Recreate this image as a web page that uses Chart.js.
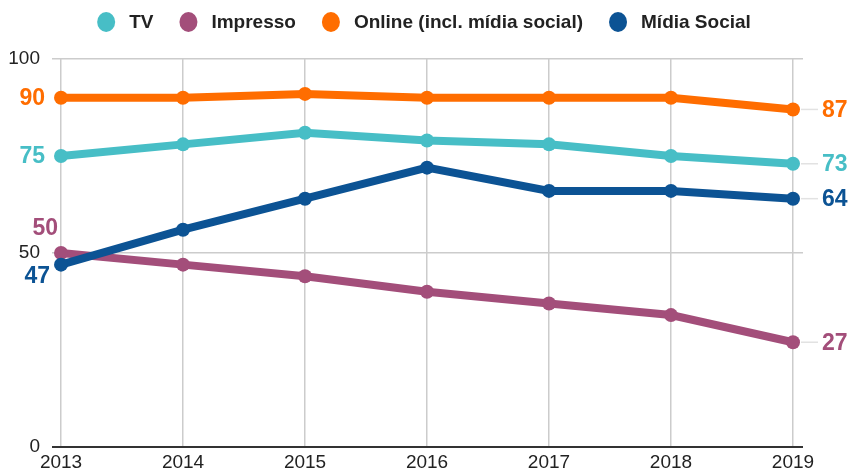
<!DOCTYPE html>
<html>
<head>
<meta charset="utf-8">
<script src="https://cdn.jsdelivr.net/npm/chart.js@4"></script>
<style>
  html, body { margin: 0; padding: 0; background: #fff; }
  #wrap { width: 851px; height: 472px; }
</style>
</head>
<body>
<div id="wrap"><canvas id="chart" width="851" height="472"></canvas></div>
<script>
// Years on the x axis
const years = [2013, 2014, 2015, 2016, 2017, 2018, 2019];

// Share (%) per medium
const tv = [75, 78, 81, 79, 78, 75, 73];
const impresso = [50, 47, 44, 40, 37, 34, 27];
const online = [90, 90, 91, 90, 90, 90, 87];
const midiaSocial = [47, 56, 64, 72, 66, 66, 64];

const seriesNames = ["TV", "Impresso", "Online (incl. mídia social)", "Mídia Social"];
const seriesColors = ["#47bec6", "#a34e7a", "#ff6d00", "#0c5394"];
const yTicks = [0, 50, 100];

const allSeries = [tv, impresso, online, midiaSocial];

const FONT = "'Liberation Sans', Arial, sans-serif";

// offsets for the 2013 labels (dx, dy) so they don't collide
const startLabelDx = [-16, -3, -16, -11];
const startLabelDy = [0, -25, 0, 11];

function toPoints(values) {
  return values.map((v, i) => ({ x: years[i], y: v }));
}

// legend row above the plot
const topLegend = {
  id: "topLegend",
  afterDraw(chart) {
    const ctx = chart.ctx;
    ctx.save();
    ctx.font = "bold 19px " + FONT;
    ctx.textBaseline = "middle";
    ctx.textAlign = "left";
    const r = 9, gapText = 14, gapItem = 26, y = 22;
    const widths = seriesNames.map(n => ctx.measureText(n).width);
    let total = 0;
    widths.forEach((w, i) => { total += 2 * r + gapText + w + (i < widths.length - 1 ? gapItem : 0); });
    let x = 424 - total / 2;
    seriesNames.forEach((name, i) => {
      ctx.fillStyle = seriesColors[i];
      ctx.beginPath();
      ctx.ellipse(x + r, y, r, r + 1, 0, 0, Math.PI * 2);
      ctx.fill();
      x += 2 * r + gapText;
      ctx.fillStyle = "#222";
      ctx.fillText(name, x, y + 1);
      x += widths[i] + gapItem;
    });
    ctx.restore();
  }
};

// draws the value at both ends of every line
const endLabels = {
  id: "endLabels",
  afterDatasetsDraw(chart) {
    const ctx = chart.ctx;
    ctx.save();
    ctx.font = "bold 23px " + FONT;
    ctx.textBaseline = "middle";
    chart.data.datasets.forEach((ds, i) => {
      const pts = chart.getDatasetMeta(i).data;
      const first = pts[0];
      const last = pts[pts.length - 1];
      const vals = allSeries[i];

      ctx.fillStyle = ds.borderColor;
      ctx.textAlign = "right";
      ctx.fillText(String(vals[0]), first.x + startLabelDx[i], first.y + startLabelDy[i] + 1);

      ctx.strokeStyle = "#e2e2e2";
      ctx.lineWidth = 1.5;
      ctx.beginPath();
      ctx.moveTo(last.x + 8, last.y);
      ctx.lineTo(last.x + 25, last.y);
      ctx.stroke();

      ctx.fillStyle = ds.borderColor;
      ctx.textAlign = "left";
      ctx.fillText(String(vals[vals.length - 1]), last.x + 29, last.y + 1);
    });
    ctx.restore();
  }
};

new Chart(document.getElementById("chart"), {
  type: "line",
  data: {
    datasets: allSeries.map((vals, i) => ({
      label: seriesNames[i],
      data: toPoints(vals),
      borderColor: seriesColors[i],
      backgroundColor: seriesColors[i],
      borderWidth: 8,
      pointRadius: 7,
      pointBorderWidth: 0,
      pointHoverRadius: 7,
      tension: 0,
      order: allSeries.length - i
    }))
  },
  options: {
    responsive: false,
    animation: false,
    layout: { padding: { left: 8, right: 48, top: 59, bottom: 0 } },
    plugins: {
      legend: { display: false },
      tooltip: { enabled: false }
    },
    scales: {
      x: {
        type: "linear",
        min: 2012.926,
        max: 2019.082,
        afterBuildTicks: (scale) => { scale.ticks = years.map(v => ({ value: v })); },
        afterFit: (scale) => {
          scale.height = 25;
          scale.paddingLeft = 0;
          scale.paddingRight = 0;
        },
        border: { display: false },
        grid: { color: "#cccccc", lineWidth: 1.5, drawTicks: false },
        ticks: {
          padding: 6,
          color: "#222",
          maxRotation: 0,
          autoSkip: false,
          font: { family: FONT, size: 19, lineHeight: 1 },
          callback: (v) => String(v)
        }
      },
      y: {
        min: 0,
        max: 100,
        afterBuildTicks: (scale) => { scale.ticks = yTicks.map(v => ({ value: v })); },
        afterFit: (scale) => {
          scale.width = 44;
          scale.paddingTop = 0;
          scale.paddingBottom = 0;
        },
        border: { display: false },
        grid: {
          drawTicks: false,
          color: (c) => c.tick && c.tick.value === 0 ? "#333333" : "#cccccc",
          lineWidth: (c) => c.tick && c.tick.value === 0 ? 2 : 1.5
        },
        ticks: {
          padding: 12,
          color: "#222",
          font: { family: FONT, size: 19 }
        }
      }
    }
  },
  plugins: [endLabels, topLegend]
});
</script>
</body>
</html>
